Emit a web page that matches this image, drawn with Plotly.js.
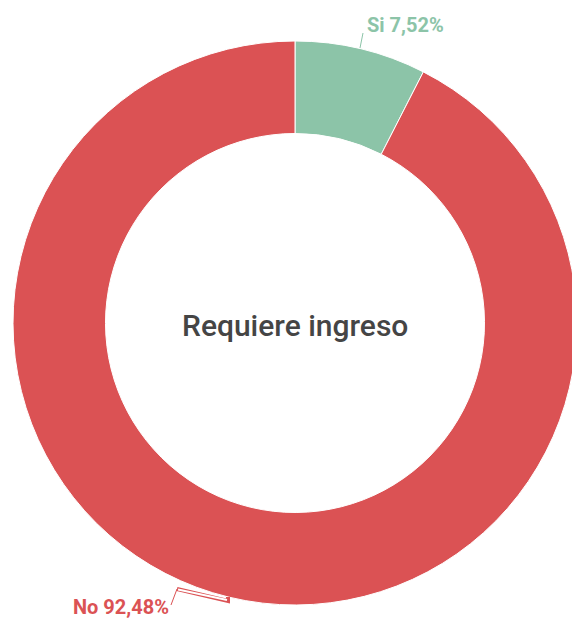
<!DOCTYPE html>
<html><head><meta charset="utf-8">
<script src="https://cdn.plot.ly/plotly-3.0.1.min.js"></script>
<style>html,body{margin:0;padding:0;overflow:hidden;background:#fff}#c{width:600px;height:618px}</style>
</head><body><div id="c"></div>
<script>
const categories = ["Si", "No"];
const values = [7.52, 92.48];
const colors = ["#8cc4a8", "#db5254"];
const centerTitle = "Requiere ingreso";

const W = 600, H = 618;
const px = x => x / W, py = y => 1 - y / H;
const fmt = v => v.toFixed(2).replace(".", ",") + "%";

const trace = {
  type: "pie",
  labels: categories,
  values: values,
  marker: {colors: colors, line: {color: "#ffffff", width: 1}},
  hole: 0.672,
  sort: false,
  direction: "clockwise",
  rotation: 0,
  textinfo: "none",
  hoverinfo: "label+percent",
  domain: {x: [px(13), px(577)], y: [py(605), py(41)]},
  showlegend: false
};

const labelPos = [
  {x: 365, y: 25, xanchor: "left"},
  {x: 171, y: 607, xanchor: "right"}
];

const annotations = [
  {text: centerTitle, x: px(295), y: py(326), xref: "paper", yref: "paper", showarrow: false,
   font: {family: "Roboto", size: 30, color: "#454545", weight: 500}}
].concat(categories.map((c, i) => ({
  text: c + " " + fmt(values[i]), x: px(labelPos[i].x), y: py(labelPos[i].y),
  xref: "paper", yref: "paper", showarrow: false, xanchor: labelPos[i].xanchor, yanchor: "middle",
  font: {family: "Roboto", size: 20, color: colors[i], weight: 700}
})));

function P(pts){ return pts.map((p, k) => (k ? "L" : "M") + px(p[0]) + "," + py(p[1])).join(" "); }

const shapes = [
  {type: "path", xref: "paper", yref: "paper", path: P([[363, 33], [360, 48]]), line: {color: colors[0], width: 1}},
  {type: "path", xref: "paper", yref: "paper", path: P([[171, 605], [177, 589]]), line: {color: colors[1], width: 1}},
  {type: "path", xref: "paper", yref: "paper", path: P([[177, 589], [228, 601], [228, 597]]), line: {color: colors[1], width: 4}},
  {type: "path", xref: "paper", yref: "paper", path: P([[178, 589.5], [227, 600]]), line: {color: "#ffffff", width: 2}}
];

Plotly.newPlot("c", [trace], {
  width: W, height: H,
  margin: {l: 0, r: 0, t: 0, b: 0},
  paper_bgcolor: "#ffffff",
  annotations: annotations,
  shapes: shapes
}, {displayModeBar: false, staticPlot: true});
</script></body></html>
